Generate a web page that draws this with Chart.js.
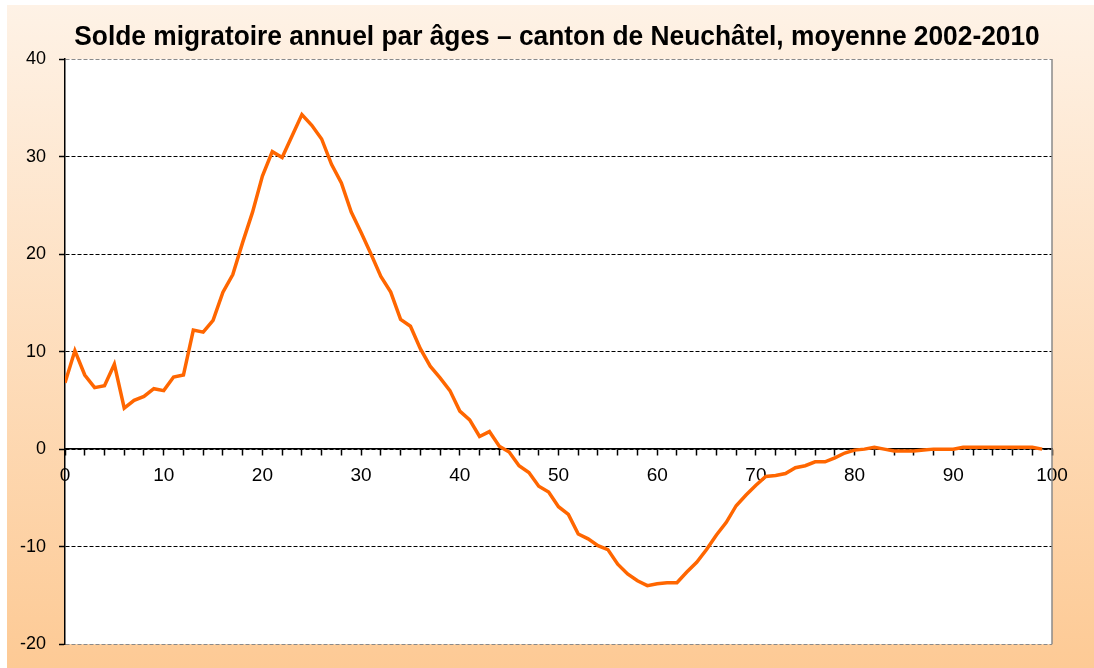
<!DOCTYPE html>
<html>
<head>
<meta charset="utf-8">
<script src="https://cdn.jsdelivr.net/npm/chart.js@4/dist/chart.umd.min.js"></script>
<style>
    html, body { margin: 0; padding: 0; background: #fff; }
    #wrap { width: 1094px; height: 668px; }
</style>
</head>
<body>
<div id="wrap"><canvas id="chart" width="1094" height="668"></canvas></div>
<script>
// Chart data
const chartTitle = 'Solde migratoire annuel par âges – canton de Neuchâtel, moyenne 2002-2010';

const ages = [
    0, 1, 2, 3, 4, 5, 6, 7, 8, 9,
    10, 11, 12, 13, 14, 15, 16, 17, 18, 19,
    20, 21, 22, 23, 24, 25, 26, 27, 28, 29,
    30, 31, 32, 33, 34, 35, 36, 37, 38, 39,
    40, 41, 42, 43, 44, 45, 46, 47, 48, 49,
    50, 51, 52, 53, 54, 55, 56, 57, 58, 59,
    60, 61, 62, 63, 64, 65, 66, 67, 68, 69,
    70, 71, 72, 73, 74, 75, 76, 77, 78, 79,
    80, 81, 82, 83, 84, 85, 86, 87, 88, 89,
    90, 91, 92, 93, 94, 95, 96, 97, 98, 99
];

const migrationBalance = [
    6.8, 10.1, 7.6, 6.3, 6.5, 8.7, 4.2, 5.0, 5.4, 6.2,
    6.0, 7.4, 7.6, 12.2, 12.0, 13.2, 16.1, 17.9, 21.2, 24.3,
    28.0, 30.5, 29.9, 32.1, 34.3, 33.2, 31.8, 29.2, 27.3, 24.3,
    22.2, 20.0, 17.7, 16.1, 13.3, 12.6, 10.3, 8.5, 7.3, 6.0,
    3.9, 3.0, 1.3, 1.8, 0.3, -0.3, -1.7, -2.4, -3.8, -4.4,
    -5.9, -6.7, -8.7, -9.2, -9.9, -10.3, -11.8, -12.8, -13.5, -14.0,
    -13.8, -13.7, -13.7, -12.6, -11.6, -10.3, -8.8, -7.5, -5.8, -4.7,
    -3.7, -2.8, -2.7, -2.5, -1.9, -1.7, -1.3, -1.3, -0.9, -0.4,
    -0.1, 0.0, 0.2, 0.0, -0.2, -0.2, -0.2, -0.1, 0.0, 0.0,
    0.0, 0.2, 0.2, 0.2, 0.2, 0.2, 0.2, 0.2, 0.2, 0.0
];

const yTicks = [-20, -10, 0, 10, 20, 30, 40];
const xTickLabels = [0, 10, 20, 30, 40, 50, 60, 70, 80, 90, 100];

const points = ages.map((a, i) => ({ x: a, y: migrationBalance[i] }));

const fontFamily = 'Liberation Sans, Arial, sans-serif';

// Background: peach gradient frame + white plot area, plus title and right frame line
const backgroundPlugin = {
    id: 'background',
    beforeDraw(chart) {
        const { ctx, width, height, chartArea } = chart;
        ctx.save();
        ctx.fillStyle = '#ffffff';
        ctx.fillRect(0, 0, width, height);
        const grad = ctx.createLinearGradient(0, 5, 0, height);
        grad.addColorStop(0, '#fef2e6');
        grad.addColorStop(1, '#fdca95');
        ctx.fillStyle = grad;
        ctx.fillRect(7, 5, width - 7, height - 5);
        ctx.fillStyle = '#ffffff';
        ctx.fillRect(chartArea.left, chartArea.top, chartArea.right - chartArea.left, chartArea.bottom - chartArea.top);

        // title, a bit condensed like the original
        ctx.font = 'bold 28px ' + fontFamily;
        ctx.fillStyle = '#000';
        ctx.textAlign = 'center';
        ctx.textBaseline = 'alphabetic';
        ctx.translate(557, 45);
        ctx.scale(0.94, 1);
        ctx.fillText(chartTitle, 0, 0);
        ctx.restore();
    },
    afterDraw(chart) {
        const { ctx, chartArea } = chart;
        ctx.save();
        ctx.strokeStyle = '#8a8a8a';
        ctx.lineWidth = 1.5;
        ctx.beginPath();
        ctx.moveTo(chartArea.right, chartArea.top);
        ctx.lineTo(chartArea.right, chartArea.bottom);
        ctx.stroke();
        ctx.restore();
    }
};

const ctx = document.getElementById('chart').getContext('2d');
new Chart(ctx, {
    type: 'line',
    data: {
        datasets: [{
            data: points,
            borderColor: '#ff6600',
            borderWidth: 3.5,
            pointRadius: 0,
            tension: 0,
            fill: false
        }]
    },
    options: {
        responsive: false,
        animation: false,
        layout: { padding: { left: 7, right: 42, top: 59, bottom: 21 } },
        plugins: {
            legend: { display: false },
            tooltip: { enabled: false },
            title: { display: false }
        },
        scales: {
            x: {
                type: 'linear',
                position: { y: 0 },
                min: 0,
                max: 100,
                afterBuildTicks(scale) {
                    const t = [];
                    for (let v = 0; v <= 100; v += 2) t.push({ value: v });
                    scale.ticks = t;
                },
                ticks: {
                    autoSkip: false,
                    maxRotation: 0,
                    padding: 9,
                    color: '#000',
                    font: { family: fontFamily, size: 19 },
                    callback: v => xTickLabels.includes(v) ? v : ''
                },
                grid: {
                    drawOnChartArea: false,
                    drawTicks: true,
                    tickLength: 6,
                    tickColor: '#000',
                    tickWidth: 1.5
                },
                border: { display: true, color: '#000', width: 1.5 }
            },
            y: {
                min: yTicks[0],
                max: yTicks[yTicks.length - 1],
                ticks: {
                    stepSize: 10,
                    padding: 13,
                    color: '#000',
                    font: { family: fontFamily, size: 18 }
                },
                grid: {
                    color: c => (c.tick && (c.tick.value === 40 || c.tick.value === -20)) ? '#8a8a8a' : '#000',
                    lineWidth: 1,
                    tickLength: 6,
                    tickColor: '#000',
                    tickWidth: 1.5
                },
                border: { display: true, color: '#000', width: 1.5, dash: [4, 2] }
            }
        }
    },
    plugins: [backgroundPlugin]
});
</script>
</body>
</html>
